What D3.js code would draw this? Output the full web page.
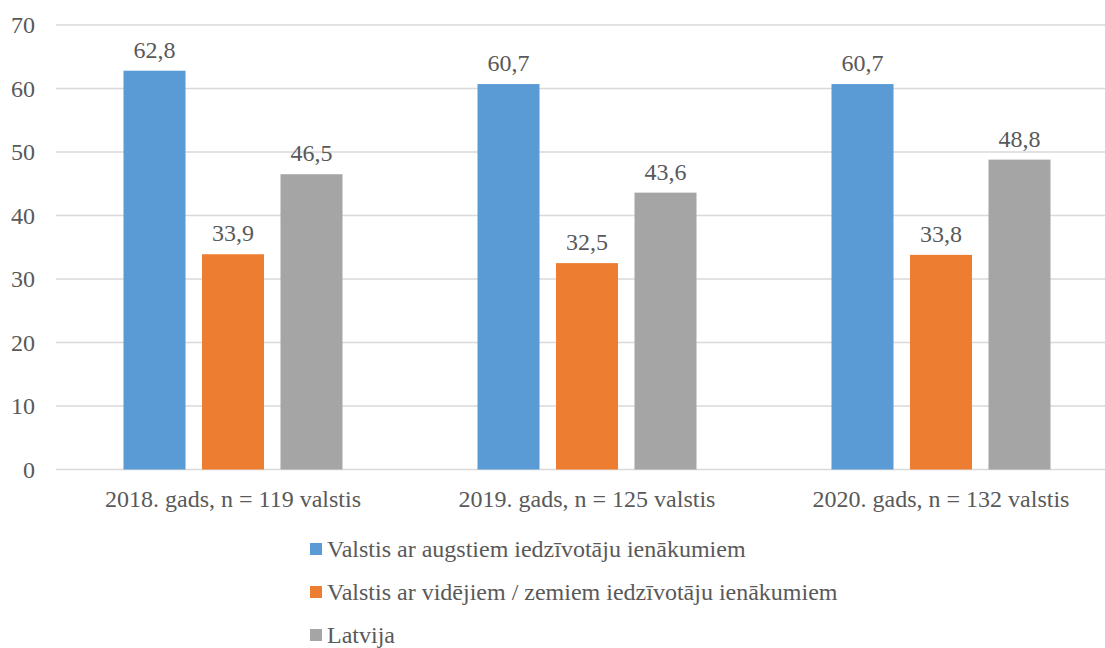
<!DOCTYPE html>
<meta charset="utf-8">
<body style="margin:0">
<script src="https://cdn.jsdelivr.net/npm/d3@7/dist/d3.min.js"></script>
<script>

// data
var categories = ["2018. gads, n = 119 valstis", "2019. gads, n = 125 valstis", "2020. gads, n = 132 valstis"]
var seriesNames = ["Valstis ar augstiem iedzīvotāju ienākumiem",
                   "Valstis ar vidējiem / zemiem iedzīvotāju ienākumiem",
                   "Latvija"]
var highIncome = [62.8, 60.7, 60.7]
var midLowIncome = [33.9, 32.5, 33.8]
var latvia = [46.5, 43.6, 48.8]
var yTicks = [0, 10, 20, 30, 40, 50, 60, 70]
var colors = ["#5B9BD5", "#ED7D31", "#A5A5A5"]

var seriesValues = [highIncome, midLowIncome, latvia]
var font = "'Liberation Serif'"
var fontSize = "24px"
var textColor = "#595959"

// svg
var w = 1105
var h = 648
var svg = d3.select("body").append("svg").attr("width", w).attr("height", h)
    .style("font-family", font)

// scales
var x0 = d3.scaleBand().domain(categories).range([56, 1118])
var x1 = d3.scaleBand().domain(seriesNames).range([-109.5, 109.5]).paddingInner(0.21)
var y = d3.scaleLinear().domain([0, 70]).range([469.5, 25])

// gridlines
svg.append("g")
    .selectAll("line")
    .data(yTicks).enter()
    .append("line")
    .attr("x1", 56)
    .attr("x2", w)
    .attr("y1", function(d) {return y(d)})
    .attr("y2", function(d) {return y(d)})
    .style("stroke", "#D9D9D9")
    .style("stroke-width", 1.5)

// y axis labels
svg.append("g")
    .selectAll("text")
    .data(yTicks).enter()
    .append("text")
    .attr("x", 35)
    .attr("y", function(d) {return y(d) + 8})
    .attr("text-anchor", "end")
    .style("font-size", fontSize)
    .style("font-family", font)
    .style("fill", textColor)
    .text(function(d) {return d})

// bars
var groups = svg.append("g")
    .selectAll("g")
    .data(categories).enter()
    .append("g")
    .attr("transform", function(d) {return "translate(" + (x0(d) + x0.bandwidth()/2) + ",0)"})

function rows(c, i) {
    return seriesNames.map(function(s, j) {return {s: s, j: j, v: seriesValues[j][i]}})
}

groups.selectAll("rect")
    .data(rows).enter()
    .append("rect")
    .attr("x", function(d) {return x1(d.s)})
    .attr("width", x1.bandwidth())
    .attr("y", function(d) {return y(d.v)})
    .attr("height", function(d) {return y(0) - y(d.v)})
    .style("fill", function(d) {return colors[d.j]})

// value labels
groups.selectAll("text")
    .data(rows).enter()
    .append("text")
    .attr("x", function(d) {return x1(d.s) + x1.bandwidth()/2})
    .attr("y", function(d) {return y(d.v) - 13})
    .attr("text-anchor", "middle")
    .style("font-size", fontSize)
    .style("font-family", font)
    .style("fill", textColor)
    .text(function(d) {return d3.format(".1f")(d.v).replace(".", ",")})

// category labels
groups.append("text")
    .attr("x", 0)
    .attr("y", 507)
    .attr("text-anchor", "middle")
    .style("font-size", fontSize)
    .style("font-family", font)
    .style("fill", textColor)
    .text(function(d) {return d})

// legend
var legend = svg.append("g")
    .selectAll("g")
    .data(seriesNames).enter()
    .append("g")
    .attr("transform", function(d, i) {return "translate(310," + (549 + i*43) + ")"})

legend.append("rect")
    .attr("x", 0)
    .attr("y", -6)
    .attr("width", 12)
    .attr("height", 12)
    .style("fill", function(d, i) {return colors[i]})

legend.append("text")
    .attr("x", 17)
    .attr("y", 8)
    .style("font-size", fontSize)
    .style("font-family", font)
    .style("fill", textColor)
    .text(function(d) {return d})

</script>
</body>
